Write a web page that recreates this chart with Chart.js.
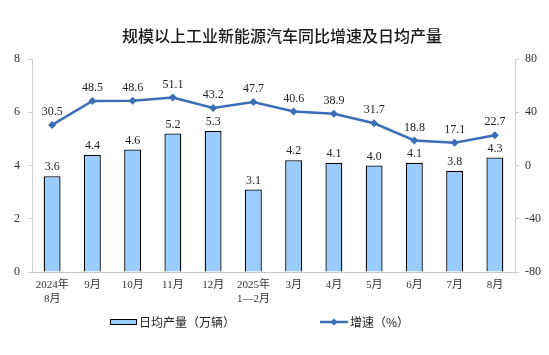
<!DOCTYPE html>
<html>
<head>
<meta charset="utf-8">
<script src="https://cdn.jsdelivr.net/npm/chart.js@4"></script>
<style>
html,body{margin:0;padding:0;background:#fff;}
#wrap{width:549px;height:355px;position:relative;}
</style>
</head>
<body>
<div id="wrap"><canvas id="c" width="549" height="355"></canvas></div>
<script>
const titleText = "规模以上工业新能源汽车同比增速及日均产量";
const categories = [["2024年","8月"],"9月","10月","11月","12月",["2025年","1—2月"],"3月","4月","5月","6月","7月","8月"];
const dailyOutput = [3.6,4.4,4.6,5.2,5.3,3.1,4.2,4.1,4.0,4.1,3.8,4.3];
const growthRate = [30.5,48.5,48.6,51.1,43.2,47.7,40.6,38.9,31.7,18.8,17.1,22.7];
const barLabel = "日均产量（万辆）";
const lineLabel = "增速（%）";
const leftTicks = [0,2,4,6,8];
const rightTicks = [-80,-40,0,40,80];

const serif = "'Liberation Serif','Noto Sans CJK SC',serif";
const cjk = "'Noto Sans CJK SC',sans-serif";
const barFill = "#99CCFF";
const lineColor = "#3A6EB5";

const decor = {
  id: "decor",
  afterDatasetsDraw(chart) {
    const ctx = chart.ctx;
    ctx.save();
    ctx.fillStyle = "#222";
    ctx.textAlign = "center";
    ctx.textBaseline = "middle";
    ctx.font = "12px " + serif;
    const mb = chart.getDatasetMeta(0);
    mb.data.forEach((el, i) => {
      ctx.fillText(dailyOutput[i].toFixed(1), el.x, el.y - 9);
    });
    const ml = chart.getDatasetMeta(1);
    ml.data.forEach((el, i) => {
      ctx.fillText(growthRate[i].toFixed(1), el.x, el.y - 13);
    });
    ctx.restore();
  },
  afterDraw(chart) {
    const ctx = chart.ctx;
    ctx.save();
    // title
    ctx.fillStyle = "#1a1a1a";
    ctx.textAlign = "center";
    ctx.textBaseline = "middle";
    ctx.font = "500 16px " + cjk;
    ctx.fillText(titleText, 282, 36);
    // legend
    const ly = 322;
    ctx.fillStyle = barFill;
    ctx.strokeStyle = "#000";
    ctx.lineWidth = 1;
    ctx.fillRect(110.5, ly - 2.5, 26, 5);
    ctx.strokeRect(110.5, ly - 2.5, 26, 5);
    ctx.fillStyle = "#222";
    ctx.textAlign = "left";
    ctx.font = "12px " + cjk;
    ctx.fillText(barLabel, 139, ly);
    ctx.strokeStyle = lineColor;
    ctx.lineWidth = 2.5;
    ctx.beginPath();
    ctx.moveTo(320, ly);
    ctx.lineTo(348, ly);
    ctx.stroke();
    ctx.fillStyle = lineColor;
    ctx.beginPath();
    ctx.moveTo(334, ly - 3.5); ctx.lineTo(337.5, ly); ctx.lineTo(334, ly + 3.5); ctx.lineTo(330.5, ly);
    ctx.closePath(); ctx.fill();
    ctx.fillStyle = "#222";
    ctx.fillText(lineLabel, 350, ly);
    ctx.restore();
  }
};

new Chart(document.getElementById("c"), {
  data: {
    labels: categories,
    datasets: [
      {
        type: "bar",
        label: barLabel,
        data: dailyOutput,
        yAxisID: "y",
        backgroundColor: barFill,
        borderColor: "#000",
        borderWidth: 1.3,
        categoryPercentage: 1,
        barPercentage: 0.42,
        order: 2
      },
      {
        type: "line",
        label: lineLabel,
        data: growthRate,
        yAxisID: "y1",
        borderColor: lineColor,
        backgroundColor: lineColor,
        borderWidth: 2.5,
        pointStyle: "rectRot",
        pointRadius: 4,
        pointBorderWidth: 0,
        tension: 0,
        order: 1
      }
    ]
  },
  options: {
    responsive: false,
    animation: false,
    devicePixelRatio: 1,
    layout: { padding: { top: 59, left: 0, right: 0, bottom: 0 } },
    plugins: { legend: { display: false }, title: { display: false }, tooltip: { enabled: false } },
    scales: {
      x: {
        offset: true,
        grid: { display: false, drawTicks: false },
        border: { color: "#c8c8c8", width: 1 },
        ticks: { color: "#333", font: { family: serif, size: 11 }, padding: 7, maxRotation: 0, autoSkip: false },
        afterFit(s) { s.height = 83; }
      },
      y: {
        position: "left",
        min: 0, max: 8,
        afterBuildTicks(s) { s.ticks = leftTicks.map(v => ({ value: v })); },
        grid: { drawOnChartArea: false, tickLength: 4, color: "#c8c8c8" },
        border: { color: "#d0d0d0", width: 1 },
        ticks: { color: "#333", font: { family: serif, size: 12 }, padding: 8 },
        afterFit(s) { s.width = 32; }
      },
      y1: {
        position: "right",
        min: -80, max: 80,
        afterBuildTicks(s) { s.ticks = rightTicks.map(v => ({ value: v })); },
        grid: { drawOnChartArea: false, tickLength: 4, color: "#c8c8c8" },
        border: { color: "#d0d0d0", width: 1 },
        ticks: { color: "#333", font: { family: serif, size: 12 }, padding: 6 },
        afterFit(s) { s.width = 34; }
      }
    }
  },
  plugins: [decor]
});
</script>
</body>
</html>
